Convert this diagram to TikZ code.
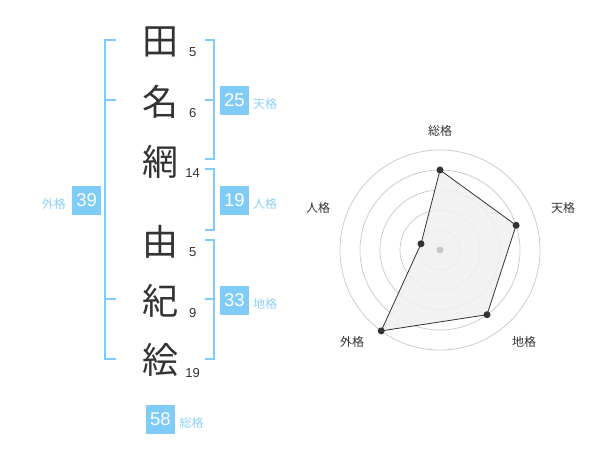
\documentclass[tikz,border=0pt]{standalone}
\usepackage{fontspec}
\setmainfont{Liberation Sans}
\newfontfamily\jp{Noto Sans CJK JP}
\definecolor{blu}{RGB}{128,204,248}
\definecolor{labelcol}{RGB}{140,208,248}
\definecolor{ink}{RGB}{51,51,51}
\definecolor{ringcol}{RGB}{200,200,200}
\definecolor{areacol}{RGB}{240,240,240}
\definecolor{centercol}{RGB}{200,200,200}
\tikzset{
  kanji/.style={font=\jp\fontsize{36}{36}\selectfont, text=ink, inner sep=0pt},
  strokes/.style={font=\fontsize{13}{13}\selectfont, text=ink, inner sep=0pt},
  numbox/.style={fill=blu, text=white, minimum size=29pt, inner sep=0pt, font=\fontsize{18.5}{18.5}\selectfont},
  kaku/.style={font=\jp\fontsize{12}{12}\selectfont, text=labelcol, inner sep=0pt},
  bracket/.style={draw=blu, line width=2pt},
  ring/.style={draw=ringcol, line width=0.7pt},
  axlabel/.style={font=\jp\fontsize{12}{12}\selectfont, text=ink, inner sep=0pt},
  dot/.style={circle, fill=ink, inner sep=0pt, minimum size=7pt},
}
\begin{document}
\begin{tikzpicture}[x=1pt,y=-1pt]
\useasboundingbox (0,0) rectangle (600,470);
% kanji
\node[kanji] (k1) at (160,42) {田};
\node[kanji] (k2) at (160,102) {名};
\node[kanji] (k3) at (160,162) {網};
\node[kanji] (k4) at (160,242) {由};
\node[kanji] (k5) at (160,301) {紀};
\node[kanji] (k6) at (160,360) {絵};
% strokes
\node[strokes] (s1) at (192.7,52.3) {5};
\node[strokes] (s2) at (192.7,112.7) {6};
\node[strokes] (s3) at (192.7,173.3) {14};
\node[strokes] (s4) at (192.7,252.3) {5};
\node[strokes] (s5) at (192.7,312.7) {9};
\node[strokes] (s6) at (192.7,372.7) {19};
% brackets
\coordinate (la) at (116,40); \coordinate (lb) at (105,40);
\coordinate (lc) at (105,359); \coordinate (ld) at (116,359);
\draw[bracket] (la) -- (lb) -- (lc) -- (ld);
\draw[bracket] (105,100) -- (116,100);
\draw[bracket] (105,299) -- (116,299);
\draw[bracket] (205,40) -- (214,40) -- (214,159) -- (205,159);
\draw[bracket] (205,100) -- (214,100);
\draw[bracket] (205,169) -- (214,169) -- (214,230) -- (205,230);
\draw[bracket] (205,240) -- (214,240) -- (214,359) -- (205,359);
\draw[bracket] (205,299) -- (214,299);
% boxes
\node[numbox] (ten) at (234.5,100.5) {25};
\node[kaku, anchor=west] (tenl) at (253,103.5) {天格};
\node[numbox] (jin) at (234.5,200.5) {19};
\node[kaku, anchor=west] (jinl) at (253,203.5) {人格};
\node[numbox] (chi) at (234.5,300.5) {33};
\node[kaku, anchor=west] (chil) at (253,303.5) {地格};
\node[numbox] (gai) at (86.7,200.5) {39};
\node[kaku, anchor=east] (gail) at (66,203.5) {外格};
\node[numbox] (sou) at (160.5,419.5) {58};
\node[kaku, anchor=west] (soul) at (179.5,422.5) {総格};
% radar
\coordinate (c) at (440,250);
\foreach \r in {20,40,60,80,100} \draw[ring] (c) circle[radius=\r];
\coordinate (p1) at (440,170);
\coordinate (p2) at (516.1,225.3);
\coordinate (p3) at (487.0,314.7);
\coordinate (p4) at (381.2,330.9);
\coordinate (p5) at (421.0,243.8);
\draw[fill=areacol, fill opacity=0.85, draw=ink, line width=0.8pt] (p1) -- (p2) -- (p3) -- (p4) -- (p5) -- cycle;
\fill[centercol] (c) circle[radius=3.5];
\foreach \p in {p1,p2,p3,p4,p5} \node[dot] at (\p) {};
\node[axlabel] (a1) at (440,130.5) {総格};
\node[axlabel] (a2) at (563,208) {天格};
\node[axlabel] (a3) at (524,341.5) {地格};
\node[axlabel] (a4) at (352,341.5) {外格};
\node[axlabel] (a5) at (318,208) {人格};
\end{tikzpicture}
\end{document}
